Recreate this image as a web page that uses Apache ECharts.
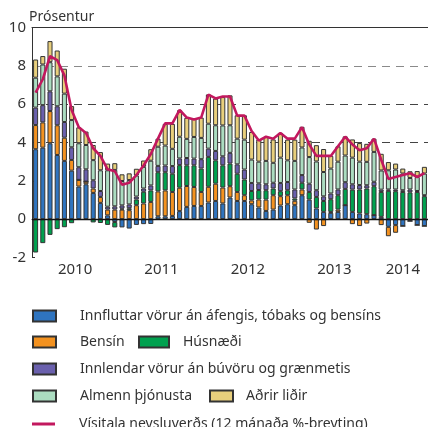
<!DOCTYPE html>
<html>
<head>
<meta charset="utf-8">
<script src="https://cdn.jsdelivr.net/npm/echarts@6/dist/echarts.min.js"></script>
<style>
html,body{margin:0;padding:0;background:#fff}
#chart{width:428px;height:427px}
</style>
</head>
<body>
<div id="chart"></div>
<script>
/* mánuðir jan 2010 - júl 2014 */
var years = ['2010', '2011', '2012', '2013', '2014'];
var monthsPerYear = [12, 12, 12, 12, 7];
var yearTicks = ['-2', '0', '2', '4', '6', '8', '10'];

// framlag undirliða, prósentustig
var innflutt = [3.65,3.73,3.96,3.35,3.04,2.53,1.70,1.82,1.37,0.85,0.20,-0.15,
  -0.43,-0.49,-0.30,-0.26,-0.25,0.15,0.15,0.17,0.42,0.64,0.69,0.69,
  0.87,0.95,0.82,1.13,0.95,0.95,0.78,0.61,0.43,0.50,0.71,0.78,
  0.73,1.25,1.02,0.56,0.38,0.33,0.38,0.73,0.38,0.30,0.26,0.21,
  0.12,-0.40,-0.31,-0.36,-0.10,-0.31,-0.36];
var bensin = [1.26,1.32,1.68,1.55,1.21,0.56,0.35,0.14,0.23,0.31,0.30,0.50,
  0.50,0.47,0.73,0.82,0.90,1.30,1.35,1.25,1.22,1.09,0.99,0.73,
  0.82,0.90,0.83,0.59,0.47,0.30,0.20,0.42,0.59,0.75,0.49,0.47,
  0.23,0.30,-0.19,-0.54,-0.36,0.05,0.12,0,-0.26,-0.36,-0.23,0,
  -0.31,-0.49,-0.40,0,0,0,0];
var husnaedi = [-1.74,-1.25,-0.82,-0.52,-0.42,-0.21,0,0,-0.17,-0.20,-0.30,-0.28,
  0.05,0.10,0.30,0.61,0.60,1.00,0.95,0.95,1.18,1.08,1.13,1.22,
  1.56,1.22,1.16,1.18,0.95,0.82,0.49,0.49,0.49,0.35,0.26,0.26,
  0.12,0.35,0.40,0.60,0.57,0.66,0.75,0.85,1.16,1.25,1.34,1.51,
  1.30,1.48,1.46,1.42,1.40,1.42,1.20];
var innlent = [0.91,0.90,1.03,0.99,0.82,0.66,0.66,0.64,0.43,0.31,0.15,0.17,
  0.17,0.20,0.15,0.17,0.26,0.33,0.35,0.40,0.35,0.38,0.35,0.49,
  0.43,0.49,0.47,0.56,0.49,0.52,0.42,0.35,0.31,0.30,0.43,0.43,
  0.47,0.40,0.43,0.35,0.24,0.30,0.30,0.35,0.28,0.23,0.17,0.23,
  0.12,0.07,0.09,0.09,0.15,0.05,0.05];
var thjonusta = [1.56,2.12,1.52,1.56,1.48,1.42,1.25,1.27,1.05,1.08,1.90,1.90,
  1.27,1.27,1.10,1.13,1.29,1.00,1.04,0.90,1.13,1.00,1.13,1.11,
  1.30,1.34,1.61,1.44,1.34,1.56,1.22,1.13,1.22,1.04,1.32,1.13,
  1.49,1.44,1.39,1.50,1.27,1.30,1.45,1.39,1.39,1.22,1.22,1.56,
  1.00,1.00,1.04,0.87,0.60,0.73,1.13];
var adrir = [0.95,0.44,1.10,1.35,1.30,0.73,0.83,0.70,0.79,0.95,0.35,0.35,
  0.35,0.35,0.35,0.33,0.60,0.42,1.13,1.30,1.39,1.10,0.95,1.06,
  1.53,1.39,1.48,1.56,1.22,1.27,1.44,1.16,1.26,1.22,1.29,1.08,
  1.11,1.08,0.85,0.85,1.20,0.66,0.80,1.00,0.95,0.97,0.94,0.69,
  0.87,0.43,0.31,0.26,0.35,0.31,0.35];
// vísitala neysluverðs, 12 mánaða breyting
var visitala = [6.6,7.3,8.5,8.3,7.5,5.7,4.8,4.5,3.7,3.3,2.6,2.5,
  1.8,1.9,2.3,2.8,3.4,4.2,5.0,5.0,5.7,5.3,5.2,5.3,
  6.5,6.3,6.4,6.4,5.4,5.4,4.6,4.1,4.3,4.2,4.5,4.2,
  4.2,4.8,3.9,3.3,3.3,3.3,3.8,4.3,3.9,3.6,3.7,4.2,
  3.1,2.1,2.2,2.3,2.4,2.2,2.4];

var months = [];
for (var i = 0; i < years.length; i++) {
  for (var m = 1; m <= monthsPerYear[i]; m++) {
    months.push(years[i] + '-' + (m < 10 ? '0' + m : m));
  }
}

var FONT = 'Noto Sans';
var TXT = '#333';

function barSeries(name, data, color) {
  return {
    name: name,
    type: 'bar',
    stack: 'vnv',
    data: data,
    barWidth: '70%',
    itemStyle: { color: color, borderColor: '#333', borderWidth: 1 }
  };
}

// ein lína af skýringum
function legendRow(name, left, top, w, gap) {
  return {
    data: [name],
    left: left,
    top: top,
    padding: 0,
    icon: 'rect',
    itemWidth: w,
    itemHeight: 11,
    selectedMode: false,
    textStyle: { fontFamily: FONT, fontSize: 14, color: TXT, padding: [0, 0, 0, gap] }
  };
}

var names = ['Innfluttar vörur án áfengis, tóbaks og bensíns', 'Bensín', 'Húsnæði',
  'Innlendar vörur án búvöru og grænmetis', 'Almenn þjónusta', 'Aðrir liðir',
  'Vísitala neysluverðs (12 mánaða %-breyting)'];

var lineLegend = legendRow(names[6], 32, 417, 23, 19);
lineLegend.itemHeight = 3;

var blue = barSeries(names[0], innflutt, '#2f74bf');
blue.markLine = {
  silent: true, symbol: 'none', label: { show: false },
  lineStyle: { color: '#111', type: 'solid', width: 1.3 },
  data: [{ yAxis: 0 }]
};

var chart = echarts.init(document.getElementById('chart'));
chart.setOption({
  animation: false,
  title: {
    text: 'Prósentur',
    left: 29,
    top: 10,
    padding: 0,
    textStyle: { fontFamily: FONT, fontSize: 14, fontWeight: 'normal', color: TXT }
  },
  grid: { left: 32, right: 0, top: 27.5, bottom: 169.5 },
  legend: [
    legendRow(names[0], 32, 309, 23, 19),
    legendRow(names[1], 32, 335, 23, 19),
    legendRow(names[2], 138, 335, 30, 9),
    legendRow(names[3], 32, 362, 23, 19),
    legendRow(names[4], 32, 389, 23, 19),
    legendRow(names[5], 209, 389, 23, 8),
    lineLegend
  ],
  xAxis: [{
    type: 'category',
    data: months,
    axisLine: { lineStyle: { color: '#333' } },
    axisTick: {
      length: 7, lineStyle: { color: '#333' },
      interval: function (idx) { return idx % 12 === 0; }
    },
    axisLabel: {
      margin: 5,
      interval: function (idx) { return idx === 5 || idx === 17 || idx === 29 || idx === 41 || idx === 51; },
      formatter: function (val, idx) {
        return idx === 51 ? '{b|' + val.slice(0, 4) + '}' : '{a|' + val.slice(0, 4) + '}';
      },
      rich: {
        a: { fontFamily: FONT, fontSize: 15, color: TXT, padding: [0, 0, 0, 7] },
        b: { fontFamily: FONT, fontSize: 15, color: TXT }
      }
    }
  }, {
    type: 'category',
    data: months,
    position: 'top',
    axisLine: { lineStyle: { color: '#333' } },
    axisTick: { show: false },
    axisLabel: { show: false }
  }],
  yAxis: {
    type: 'value',
    min: -2,
    max: 10,
    interval: 2,
    axisLine: { show: true, lineStyle: { color: '#333' } },
    axisTick: { show: true, inside: true, length: 3, lineStyle: { color: '#333' } },
    axisLabel: {
      fontFamily: FONT, fontSize: 15, color: TXT, margin: 6,
      formatter: function (v) { return yearTicks[yearTicks.indexOf(String(v))]; }
    },
    splitLine: {
      lineStyle: {
        type: [8, 6], width: 1.2,
        color: ['transparent', 'transparent', 'transparent', '#444', '#444', '#8a8a8a', 'transparent']
      }
    }
  },
  series: [
    blue,
    barSeries(names[1], bensin, '#f39220'),
    barSeries(names[2], husnaedi, '#00a14f'),
    barSeries(names[3], innlent, '#6a60ad'),
    barSeries(names[4], thjonusta, '#abdcc0'),
    barSeries(names[5], adrir, '#e8cf7c'),
    {
      name: names[6],
      type: 'line',
      data: visitala,
      showSymbol: false,
      symbol: 'none',
      z: 5,
      itemStyle: { color: '#c2185e' },
      lineStyle: { color: '#c2185e', width: 2.6 }
    }
  ]
});
</script>
</body>
</html>
